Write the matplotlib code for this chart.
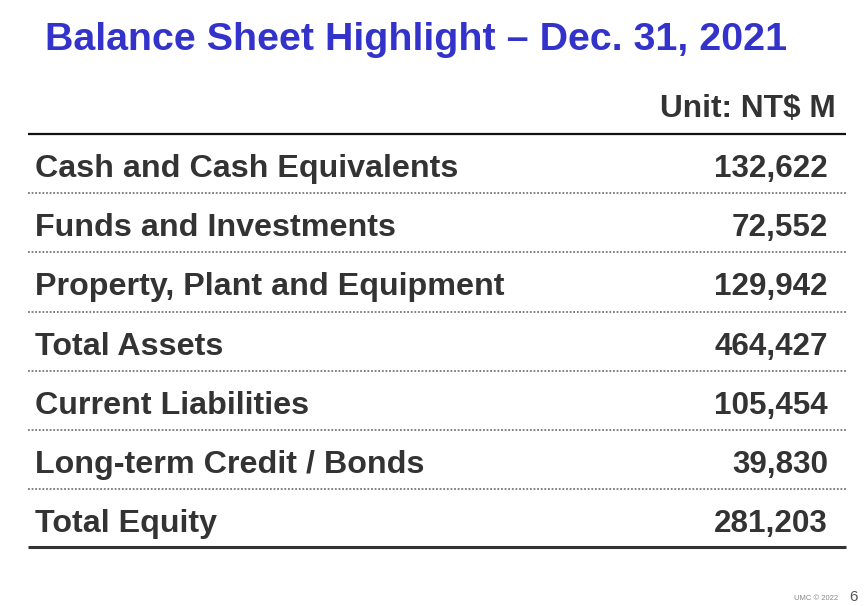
import matplotlib
matplotlib.use("Agg")
import matplotlib.pyplot as plt

title = "Balance Sheet Highlight \u2013 Dec. 31, 2021"
unit_label = "Unit: NT$ M"
items = ["Cash and Cash Equivalents", "Funds and Investments",
         "Property, Plant and Equipment", "Total Assets",
         "Current Liabilities", "Long-term Credit / Bonds", "Total Equity"]
values = [132622, 72552, 129942, 464427, 105454, 39830, 281203]
footer = "UMC \u00a9 2022"
page = "6"

W, H = 865, 606
fig = plt.figure(figsize=(W / 100, H / 100), dpi=100)
ax = fig.add_axes([0, 0, 1, 1])
ax.set_xlim(0, W)
ax.set_ylim(H, 0)
ax.axis("off")

label_font = ["Liberation Sans", "DejaVu Sans"]
ink = "#333333"

ax.text(45, 50, title, fontsize=28.4, fontweight="bold", color="#3333CC",
        family=label_font, va="baseline", ha="left")
ax.text(836, 117, unit_label, fontsize=22.8, fontweight="bold", color=ink,
        family=label_font, va="baseline", ha="right")

x0, x1 = 28, 846
top_line = 134
row_h = 59.2
ax.plot([x0, x1], [top_line, top_line], color="#111111", lw=1.6, solid_capstyle="butt")
for i, (name, v) in enumerate(zip(items, values)):
    base = 177 + i * row_h
    ax.text(35, base, name, fontsize=23.2, fontweight="bold", color=ink,
            family=label_font, va="baseline", ha="left")
    ax.text(828, base, f"{v:,}", fontsize=22.6, fontweight="bold", color=ink,
            family=label_font, va="baseline", ha="right")
    if i < len(items) - 1:
        y = top_line + (i + 1) * row_h
        ax.plot([x0, x1], [y, y], color="#777777", lw=1.3, ls=(0, (1, 1)))
ax.plot([x0, x1], [547, 547], color="#333333", lw=2.2, solid_capstyle="butt")

ax.text(838, 600, footer, fontsize=5.5, color="#888888", family=label_font,
        va="baseline", ha="right")
ax.text(858, 601, page, fontsize=11, color="#555555", family=label_font,
        va="baseline", ha="right")

fig.savefig("out.png", dpi=100)
